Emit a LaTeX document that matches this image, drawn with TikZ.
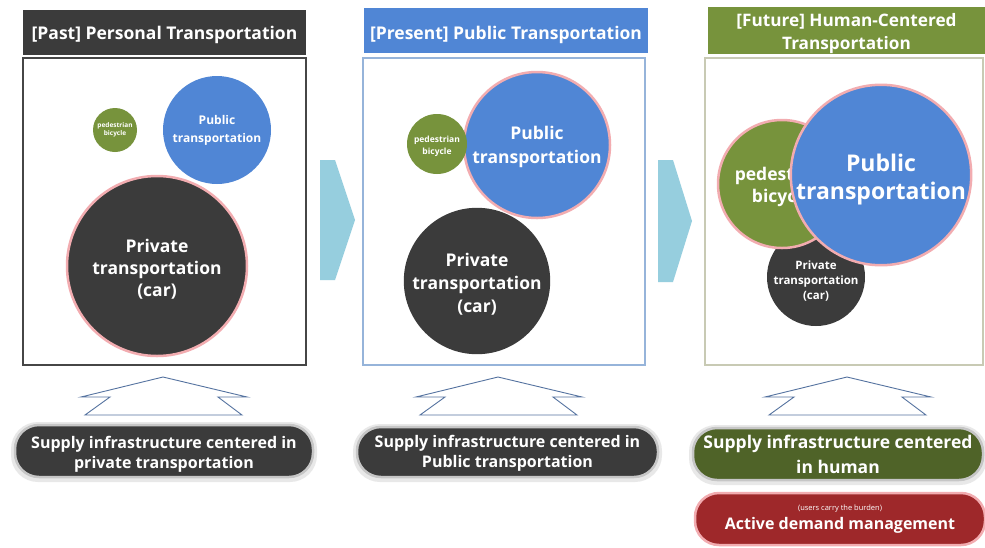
\documentclass[tikz,border=0pt]{standalone}
\usepackage{fontspec}
\setmainfont{Open Sans}
\definecolor{darkfill}{RGB}{59,59,59}
\definecolor{bluefill}{RGB}{80,134,213}
\definecolor{greenfill}{RGB}{119,147,60}
\definecolor{pillgreen}{RGB}{79,99,40}
\definecolor{redfill}{RGB}{158,40,42}
\definecolor{chevfill}{RGB}{150,206,222}
\definecolor{glowpink}{RGB}{242,172,176}
\definecolor{arrowblue}{RGB}{85,115,160}
\definecolor{frameone}{RGB}{70,70,70}
\definecolor{frametwo}{RGB}{150,180,218}
\definecolor{framethree}{RGB}{200,202,180}
% strut on the first line of a node text: lowers the whole text block by #1
\newcommand\txtdown[1]{\rule{0pt}{\dimexpr\fontcharht\font`\l+#1*2\relax}}
\begin{document}
\begin{tikzpicture}[x=1pt,y=-1pt,
  titlebox/.style={rectangle, inner sep=0pt, minimum height=45pt, text=white,
    align=center, font=\bfseries\fontsize{17.5}{23}\selectfont},
  framebox/.style={rectangle, inner sep=0pt, fill=white, line width=1.2pt},
  bubble/.style={circle, inner sep=0pt, text=white, align=center},
  glow/.style={draw=glowpink, line width=2.5pt},
  pill/.style={rectangle, rounded corners=24pt, inner sep=0pt, text=white,
    align=center, draw=gray!45, line width=2.5pt},
  pillhalo/.style={rectangle, rounded corners=27pt, fill=gray!18, draw=none},
  chevron/.style={fill=chevfill},
  arrowline/.style={draw=arrowblue, line width=0.9pt, fill=white, line join=miter},
  hollowup/.pic={\path[arrowline] (0,0) -- (84,20) -- (55,20) -- (79,38)
      -- (-78,38) -- (-53,20) -- (-82,20) -- cycle;}
]
\useasboundingbox (0,0) rectangle (985,547);
\fill[white] (0,0) rectangle (985,547);

% ---------- column 1: past ----------
\node[titlebox, fill=darkfill, minimum width=283pt] (t1) at (164.5,32.5)
  {\txtdown{2pt}[Past] Personal Transportation};
\node[framebox, draw=frameone, minimum width=283pt, minimum height=307pt] (f1)
  at (164.5,211.5) {};
\node[bubble, fill=greenfill, minimum size=44pt,
  font=\bfseries\fontsize{6.5}{8}\selectfont] (g1) at (115,130) {pedestrian\\bicycle};
\node[bubble, fill=bluefill, minimum size=108pt,
  font=\bfseries\fontsize{12}{18}\selectfont] (b1) at (217,130) {Public\\transportation};
\node[bubble, fill=darkfill, glow, minimum size=180pt,
  font=\bfseries\fontsize{17.5}{22}\selectfont] (c1) at (157,266)
  {\txtdown{3pt}Private\\transportation\\(car)};

% ---------- column 2: present ----------
\node[titlebox, fill=bluefill, minimum width=284pt] (t2) at (506,30.5)
  {\txtdown{4pt}[Present] Public Transportation};
\node[framebox, draw=frametwo, minimum width=282pt, minimum height=307pt] (f2)
  at (504,211.5) {};
\node[bubble, fill=bluefill, glow, minimum size=146pt,
  font=\bfseries\fontsize{17.5}{24}\selectfont] (b2) at (537,145)
  {\txtdown{2pt}Public\\transportation};
\node[bubble, fill=greenfill, minimum size=60pt,
  font=\bfseries\fontsize{8.5}{12}\selectfont] (g2) at (437,144)
  {\txtdown{2pt}pedestrian\\bicycle};
\node[bubble, fill=darkfill, minimum size=130pt,
  font=\bfseries\fontsize{17.5}{23}\selectfont] (c2) at (477,281)
  {\txtdown{3.5pt}Private\\transportation\\(car)};

% ---------- column 3: future ----------
\node[titlebox, fill=greenfill, minimum width=277pt,
  font=\bfseries\fontsize{17.2}{23}\selectfont] (t3) at (846.5,30.5)
  {\txtdown{3pt}[Future] Human-Centered\\Transportation};
\node[framebox, draw=framethree, minimum width=278pt, minimum height=307pt] (f3)
  at (844,211.5) {};
\node[bubble, fill=darkfill, minimum size=98pt,
  font=\bfseries\fontsize{11.5}{15}\selectfont] (c3) at (816,277)
  {\txtdown{4pt}Private\\transportation\\(car)};
\node[bubble, fill=greenfill, glow, minimum size=128pt,
  font=\bfseries\fontsize{17.5}{22}\selectfont] (g3) at (782,184)
  {\txtdown{3pt}pedestrian\\bicycle};
\node[bubble, fill=bluefill, glow, minimum size=180pt,
  font=\bfseries\fontsize{23}{28}\selectfont] (b3) at (881,175)
  {\txtdown{5pt}Public\\transportation};

% ---------- big arrows between the columns ----------
\fill[chevron] (320,160) -- (335,160) -- (355,220) -- (335,280) -- (320,280) -- cycle;
\fill[chevron] (658,160) -- (673,160) -- (692,221) -- (673,282) -- (658,282) -- cycle;

% ---------- hollow arrows pointing up to each column ----------
\pic at (163,377) {hollowup};
\pic at (498,377) {hollowup};
\pic at (847,377) {hollowup};

% ---------- supply / demand bars ----------
\node[pillhalo, minimum width=306pt, minimum height=60pt] at (164,452) {};
\node[pill, fill=darkfill, minimum width=298pt, minimum height=52pt,
  font=\bfseries\fontsize{16}{20}\selectfont] (s1) at (164,451)
  {\txtdown{3pt}Supply infrastructure centered in\\private transportation};
\node[pillhalo, minimum width=309pt, minimum height=58pt] at (507.5,453) {};
\node[pill, fill=darkfill, minimum width=301pt, minimum height=50pt,
  font=\bfseries\fontsize{16}{20}\selectfont] (s2) at (507.5,452)
  {\txtdown{1.5pt}Supply infrastructure centered in\\Public transportation};
\node[pillhalo, minimum width=298pt, minimum height=60pt] at (838,455) {};
\node[pill, fill=pillgreen, minimum width=290pt, minimum height=52pt,
  font=\bfseries\fontsize{17.5}{25}\selectfont] (s3) at (838,454)
  {Supply infrastructure centered\\in human};
\node[pill, fill=redfill, draw=glowpink, minimum width=290pt, minimum height=52pt,
  font=\bfseries\fontsize{16}{20}\selectfont] (d3) at (840,519)
  {{\mdseries\fontsize{7.5}{9}\selectfont (users carry the burden)}\\[-1pt]Active demand management};
\end{tikzpicture}
\end{document}
